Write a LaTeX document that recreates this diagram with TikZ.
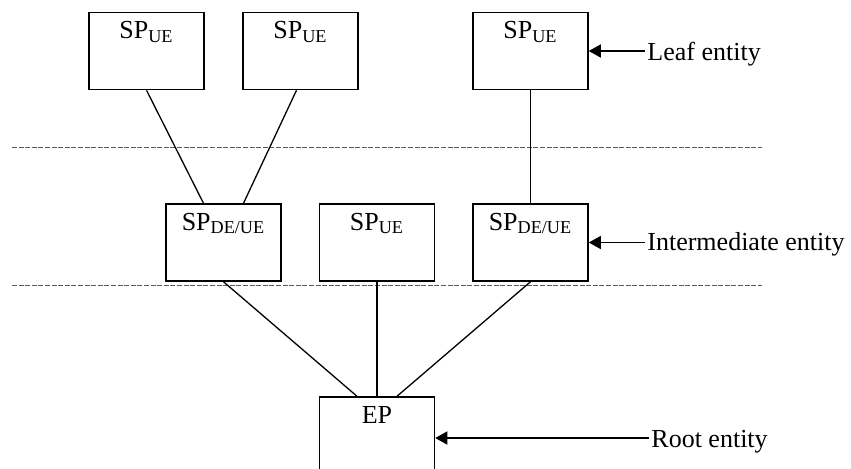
\documentclass[tikz,border=0pt]{standalone}
\usepackage{fontspec}
\setmainfont{Liberation Serif}
\usetikzlibrary{positioning,arrows.meta}

\begin{document}
\begin{tikzpicture}
    [x=0.5pt,y=-0.5pt,every node/.style={font=\fontsize{13}{15}\selectfont},
     entity/.style={draw, line width=0.75pt, minimum width=57.5pt, minimum height=38.5pt, inner sep=0pt},
     spname/.style={anchor=base, inner sep=0pt},
     tag/.style={anchor=base west, inner sep=0pt},
     pointer/.style={line width=0.65pt, -{Triangle[length=6pt, width=6.5pt]}},
     layer/.style={gray!70!black, line width=0.4pt, dash pattern=on 2.5pt off 0.8pt}]
  \useasboundingbox (0,0) rectangle (851,468);
  \clip (0,0) rectangle (851,468);

  \node[entity] (l1) at (146.5,51) {};
  \node[entity] (l2) at (300.5,51) {};
  \node[entity] (l3) at (530.5,51) {};

  \node[entity] (m1) at (223.5,242.5) {};
  \node[entity] (m2) at (377,242.5) {};
  \node[entity] (m3) at (530.5,242.5) {};

  \node[entity, minimum height=41pt] (ep) at (377,438) {};

  \foreach \ent/\txt in {l1/{SP\textsubscript{UE}}, l2/{SP\textsubscript{UE}}, l3/{SP\textsubscript{UE}},
                         m1/{SP\textsubscript{DE/UE}}, m2/{SP\textsubscript{UE}}, m3/{SP\textsubscript{DE/UE}}, ep/{EP}}
    \node[spname] (\ent t) at ([yshift=-13.5pt]\ent.north) {\txt};

  \coordinate (g1) at (12,147);
  \coordinate (g2) at (762,147);
  \coordinate (g3) at (12,285);
  \coordinate (g4) at (762,285);
  \draw[layer] (g1) -- (g2);
  \draw[layer] (g3) -- (g4);

  \foreach \from/\fs/\to/\ts in {l1/0pt/m1/-10pt, l2/-2pt/m1/10pt, l3/0pt/m3/0pt,
                                 m1/0pt/ep/-10pt, m2/0pt/ep/0pt, m3/0pt/ep/10pt}
    \draw[line width=0.65pt] ([xshift=\fs]\from.south) -- ([xshift=\ts]\to.north);

  \node[tag] (leaf) at (647,60) {Leaf entity};
  \node[tag] (inter) at (647,250) {Intermediate entity};
  \node[tag] (root) at (651,447) {Root entity};

  \foreach \from/\to in {leaf/l3, inter/m3, root/ep}
    \draw[pointer] ([xshift=-1pt]\from.base west |- \to.east) -- (\to.east);
\end{tikzpicture}
\end{document}
